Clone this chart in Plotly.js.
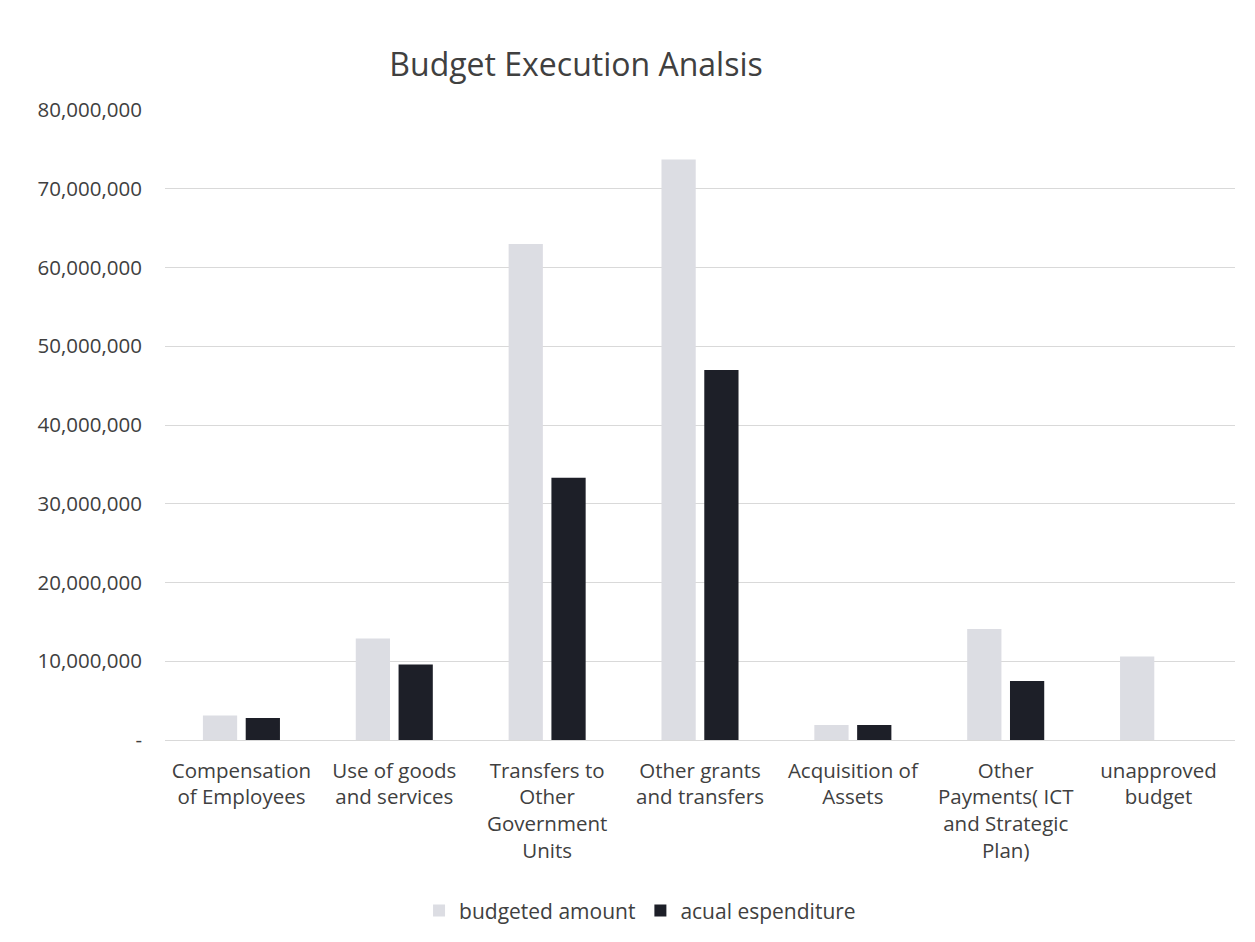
<!DOCTYPE html>
<html>
<head>
<meta charset="utf-8">
<script src="https://cdn.plot.ly/plotly-3.0.1.min.js"></script>
<style>html,body{margin:0;padding:0;background:#fff;}#chart{width:1255px;height:942px;}</style>
</head>
<body>
<div id="chart"></div>
<script>
const categories = [
  "Compensation<br>of Employees",
  "Use of goods<br>and services",
  "Transfers to<br>Other<br>Government<br>Units",
  "Other grants<br>and transfers",
  "Acquisition of<br>Assets",
  "Other<br>Payments( ICT<br>and Strategic<br>Plan)",
  "unapproved<br>budget"
];
const budgetedAmount = [3100000, 12900000, 63000000, 73700000, 1900000, 14100000, 10600000];
const actualExpenditure = [2800000, 9600000, 33300000, 47000000, 1900000, 7500000, 0];
const tickVals = [0, 10000000, 20000000, 30000000, 40000000, 50000000, 60000000, 70000000, 80000000];
const tickText = ["-", "10,000,000", "20,000,000", "30,000,000", "40,000,000", "50,000,000", "60,000,000", "70,000,000", "80,000,000"];

const fontFam = "'Open Sans', sans-serif";
const data = [
  {type: "bar", name: "budgeted amount", x: categories, y: budgetedAmount,
   marker: {color: "#dcdde3"}},
  {type: "bar", name: "acual espenditure", x: categories, y: actualExpenditure,
   marker: {color: "#1d1f28"}}
];
const layout = {
  width: 1255, height: 942,
  paper_bgcolor: "#ffffff", plot_bgcolor: "#ffffff",
  margin: {l: 165, r: 20, t: 110, b: 202},
  font: {family: fontFam, color: "#404040", size: 20},
  title: {text: "Budget Execution Analsis", font: {size: 32, color: "#404040", family: fontFam},
          xref: "container", x: 0.459, xanchor: "center", yref: "container", y: 0.931, yanchor: "middle"},
  barmode: "group", bargap: 0.44, bargroupgap: 0.2,
  showlegend: true,
  legend: {orientation: "h", xref: "container", x: 0.51, xanchor: "center", yref: "container", y: 0.033, yanchor: "middle",
           font: {size: 21, color: "#404040"}, traceorder: "normal", itemwidth: 30},
  xaxis: {tickfont: {size: 20.5, color: "#404040"}, showline: true, linecolor: "#d9d9d9", ticks: "", tickangle: 0,
          ticklabelstandoff: 12, automargin: false},
  yaxis: {range: [0, 80000000], tickvals: tickVals, ticktext: tickText, tickfont: {size: 20.5, color: "#404040"},
          gridcolor: "#d9d9d9", gridwidth: 1, zeroline: false, ticks: "", ticklabelstandoff: 22, automargin: false}
};
Plotly.newPlot("chart", data, layout, {displayModeBar: false, responsive: false});
</script>
</body>
</html>
